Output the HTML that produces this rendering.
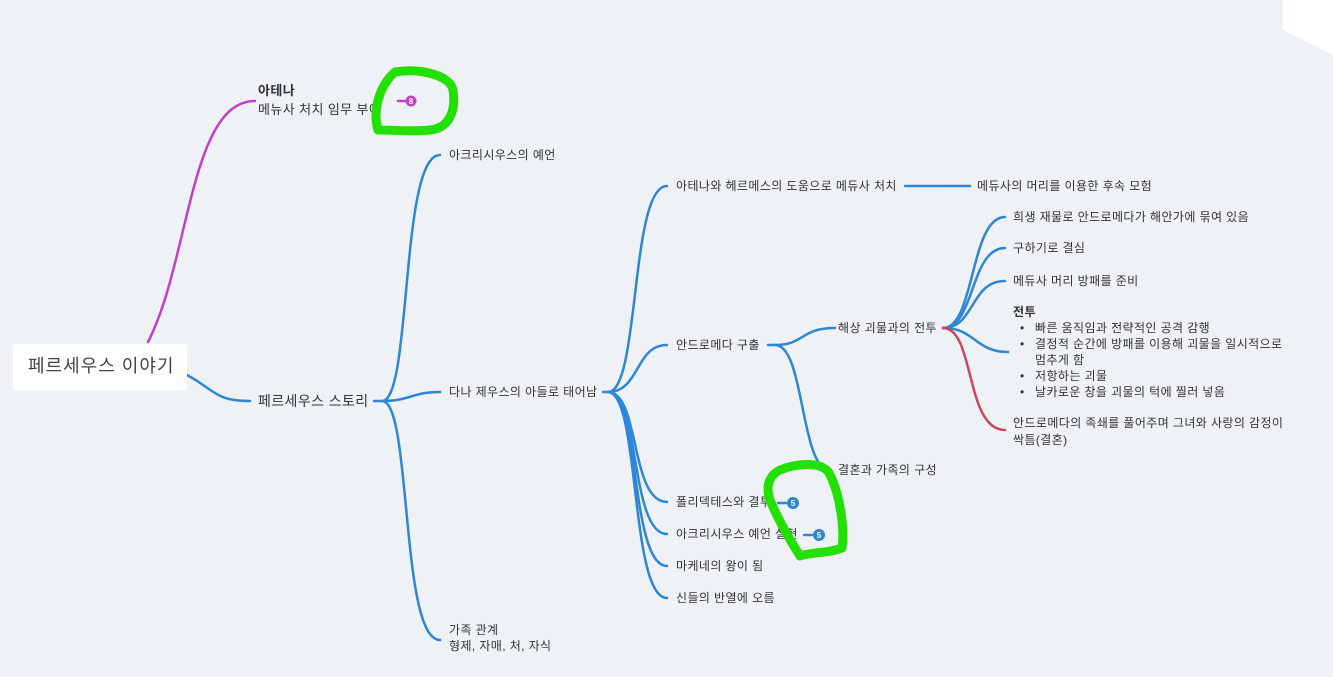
<!DOCTYPE html>
<html><head><meta charset="utf-8"><style>
html,body{margin:0;padding:0;width:1333px;height:677px;overflow:hidden;background:#eef2f6;}
svg{display:block}
text{font-family:"Liberation Sans","Noto Sans CJK KR",sans-serif;fill:#333;font-size:12px;letter-spacing:0.4px;}
</style></head><body>
<svg width="1333" height="677" viewBox="0 0 1333 677">
<rect width="1333" height="677" fill="#eef2f6"/>
<polygon points="1283,0 1333,0 1333,55 1283,30" fill="#fff"/>
<g fill="none" stroke-width="2.5" stroke-linecap="round">
<path d="M148,342 C190,260 190,101 255,101" stroke="#c040c8"/>
<path d="M398,101 L406,101" stroke="#c040c8"/>
<g stroke="#2f86d6">
<path d="M187,375 C215,390 215,401 250,401"/>
<path d="M374,401 L382,401"/>
<path d="M382,401 C412,401 400,155 440,155"/>
<path d="M382,401 C410,401 412,392 440,392"/>
<path d="M382,401 C412,401 400,640 440,640"/>
<path d="M603,392 L610,392"/>
<path d="M608,392 C640,392 630,186 667,186"/>
<path d="M608,392 C640,392 635,345 667,345"/>
<path d="M608,392 C640,392 630,502 667,502"/>
<path d="M608,392 C640,392 630,534 667,534"/>
<path d="M608,392 C640,392 630,566 667,566"/>
<path d="M608,392 C640,392 630,598 667,598"/>
<path d="M905,186 L970,186"/>
<path d="M768,345 L775,345"/>
<path d="M775,345 C805,345 800,328 835,328"/>
<path d="M775,345 C805,345 800,470 830,470"/>
<path d="M943,328 C975,328 970,217 1005,217"/>
<path d="M943,328 C975,328 970,248 1005,248"/>
<path d="M943,328 C975,328 970,281 1005,281"/>
<path d="M943,328 C975,328 975,352 1008,352"/>
<path d="M778,503 L786,503"/>
<path d="M804,535 L812,535"/>
</g>
<path d="M943,328 C975,328 965,430 1005,430" stroke="#d0455a"/>
</g>
<rect x="13" y="344" width="174" height="46" rx="3" fill="#fff"/>
<text x="28" y="372" style="font-size:18px;fill:#444;letter-spacing:1px">페르세우스 이야기</text>
<text x="258" y="95" style="font-size:13px;font-weight:bold">아테나</text>
<text x="258" y="114" style="font-size:13px">메뉴사 처치 임무 부여</text>
<circle cx="411" cy="101" r="5.5" fill="#c040c8"/>
<text x="411" y="104" text-anchor="middle" style="font-size:8px;fill:#fff;font-weight:bold;letter-spacing:0">8</text>
<text x="258" y="406" style="font-size:14px">페르세우스 스토리</text>
<text x="449" y="159">아크리시우스의 예언</text>
<text x="449" y="396">다나 제우스의 아들로 태어남</text>
<text x="449" y="634">가족 관계</text>
<text x="449" y="650">형제, 자매, 처, 자식</text>
<text x="676" y="190">아테나와 헤르메스의 도움으로 메듀사 처치</text>
<text x="977" y="190">메듀사의 머리를 이용한 후속 모험</text>
<text x="676" y="349">안드로메다 구출</text>
<text x="838" y="332">해상 괴물과의 전투</text>
<text x="838" y="474">결혼과 가족의 구성</text>
<text x="1013" y="221">희생 재물로 안드로메다가 해안가에 묶여 있음</text>
<text x="1013" y="252">구하기로 결심</text>
<text x="1013" y="285">메듀사 머리 방패를 준비</text>
<text x="1013" y="316" style="font-weight:bold">전투</text>
<g style="font-size:12px">
<text x="1020" y="332">•</text><text x="1035" y="332">빠른 움직임과 전략적인 공격 감행</text>
<text x="1020" y="348">•</text><text x="1035" y="348">결정적 순간에 방패를 이용해 괴물을 일시적으로</text>
<text x="1035" y="364">멈추게 함</text>
<text x="1020" y="380">•</text><text x="1035" y="380">저항하는 괴물</text>
<text x="1020" y="396">•</text><text x="1035" y="396">날카로운 창을 괴물의 턱에 찔러 넣음</text>
</g>
<text x="1013" y="427">안드로메다의 족쇄를 풀어주며 그녀와 사랑의 감정이</text>
<text x="1013" y="444">싹틈(결혼)</text>
<text x="676" y="506">폴리덱테스와 결투</text>
<text x="676" y="538">아크리시우스 예언 실현</text>
<text x="676" y="570">마케네의 왕이 됨</text>
<text x="676" y="602">신들의 반열에 오름</text>
<circle cx="793" cy="503" r="6" fill="#2f86d6"/>
<text x="793" y="506" text-anchor="middle" style="font-size:8px;fill:#fff;font-weight:bold;letter-spacing:0">5</text>
<circle cx="819" cy="535" r="6" fill="#2f86d6"/>
<text x="819" y="538" text-anchor="middle" style="font-size:8px;fill:#fff;font-weight:bold;letter-spacing:0">5</text>
<g fill="none" stroke="#22e000" stroke-width="9" stroke-linecap="round" stroke-linejoin="round">
<path d="M395,72 C420,68 450,75 453,90 C456,110 450,128 430,130 C410,132 395,130 378,130 C372,110 380,85 395,72 Z"/>
<path d="M780,470 C800,462 825,462 830,475 C840,495 845,530 842,548 C830,553 812,552 800,556 C790,540 778,520 770,500 C765,485 770,475 780,470 Z"/>
</g>
</svg>
</body></html>
